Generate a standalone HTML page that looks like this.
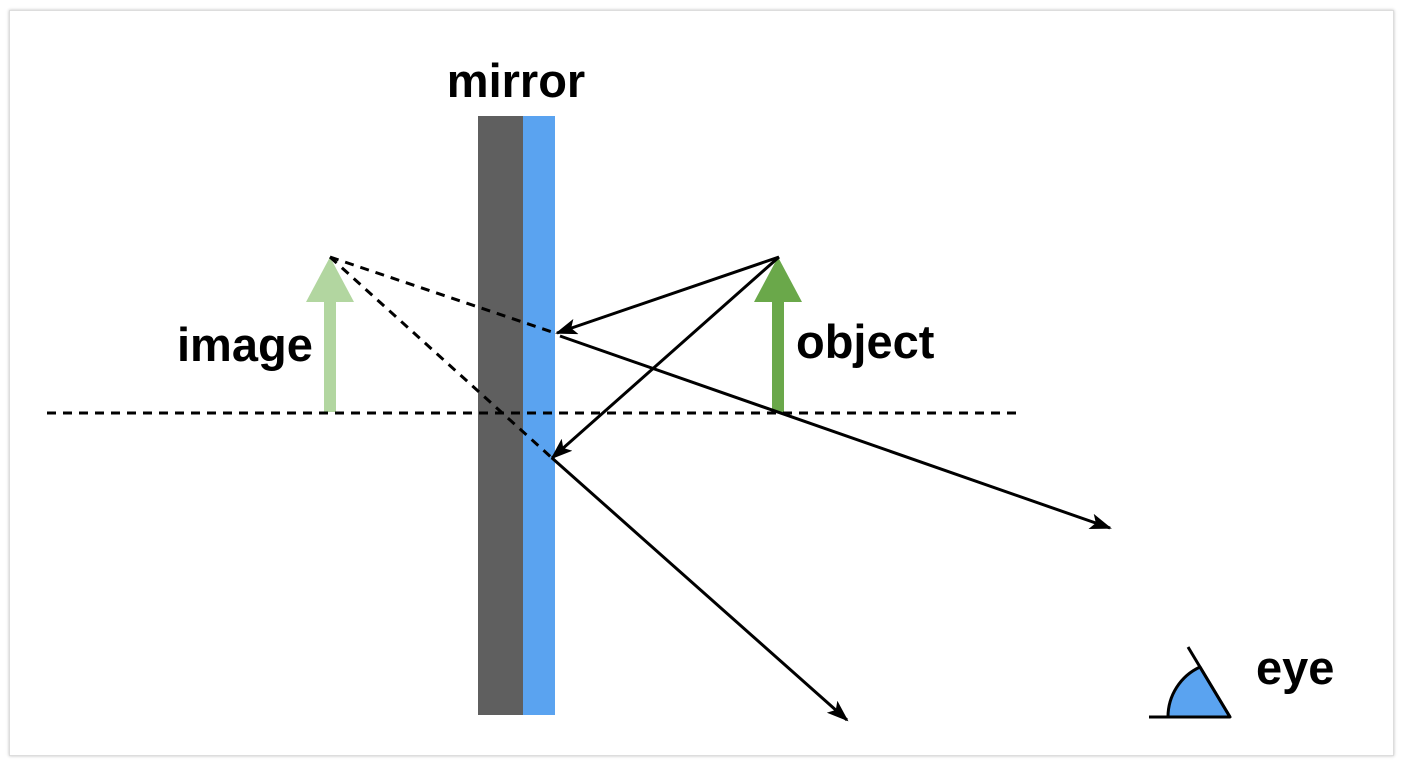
<!DOCTYPE html>
<html><head><style>
html,body{margin:0;padding:0;background:#fff;}
body{width:1402px;height:764px;position:relative;overflow:hidden;}
.frame{position:absolute;left:9px;top:10px;width:1383px;height:744px;border:1px solid #ddd;box-shadow:0 0 3px rgba(0,0,0,0.25);background:#fff;}
svg{position:absolute;left:0;top:0;}
text{font-family:"Liberation Sans",Arial,sans-serif;font-weight:bold;font-size:47px;fill:#000;}
</style></head><body>
<div class="frame"></div>
<svg width="1402" height="764" viewBox="0 0 1402 764">
<defs>
<marker id="ah" markerWidth="10" markerHeight="8" refX="9" refY="4" orient="auto" markerUnits="userSpaceOnUse" viewBox="0 0 10 8">
<path d="M0,0 L10,4 L0,8 L2,4 Z" fill="#000"/>
</marker>
<marker id="ah2" markerWidth="22" markerHeight="16" refX="20" refY="8" orient="auto" markerUnits="userSpaceOnUse">
<path d="M0,0 L22,8 L0,16 L5,8 Z" fill="#000"/>
</marker>
</defs>
<rect x="478" y="116" width="45" height="599" fill="#5f5f5f"/>
<rect x="523" y="116" width="32" height="599" fill="#5aa3f0"/>
<text x="516" y="97" text-anchor="middle">mirror</text>
<!-- image arrow -->
<rect x="324" y="300" width="12" height="112" fill="#b2d6a0"/>
<polygon points="306,302 354,302 330,257" fill="#b2d6a0"/>
<!-- object arrow -->
<rect x="772" y="300" width="12" height="112" fill="#6aa84a"/>
<polygon points="754,302 802,302 778,257" fill="#6aa84a"/>
<text x="177" y="361">image</text>
<text x="796" y="358">object</text>
<!-- axis -->
<line x1="47" y1="413" x2="1017" y2="413" stroke="#000" stroke-width="3" stroke-dasharray="9,7"/>
<!-- dashed virtual rays -->
<line x1="330" y1="257" x2="555" y2="333" stroke="#000" stroke-width="3" stroke-dasharray="9,7"/>
<line x1="330" y1="257" x2="552" y2="458" stroke="#000" stroke-width="3" stroke-dasharray="9,7"/>
<!-- rays -->
<line x1="779" y1="257" x2="557" y2="333" stroke="#000" stroke-width="3" marker-end="url(#ah2)"/>
<line x1="779" y1="257" x2="552" y2="458" stroke="#000" stroke-width="3" marker-end="url(#ah2)"/>
<line x1="560" y1="336" x2="1110" y2="528" stroke="#000" stroke-width="3" marker-end="url(#ah2)"/>
<line x1="552" y1="458" x2="847" y2="720" stroke="#000" stroke-width="3" marker-end="url(#ah2)"/>
<!-- eye -->
<path d="M1168,717 A55,55 0 0 1 1200,667 L1230,717 Z" fill="#5aa3f0" stroke="#000" stroke-width="3" stroke-linejoin="round"/>
<line x1="1149" y1="717" x2="1230" y2="717" stroke="#000" stroke-width="3"/>
<line x1="1188" y1="647" x2="1230" y2="717" stroke="#000" stroke-width="3"/>
<text x="1256" y="684">eye</text>
</svg>
</body></html>
